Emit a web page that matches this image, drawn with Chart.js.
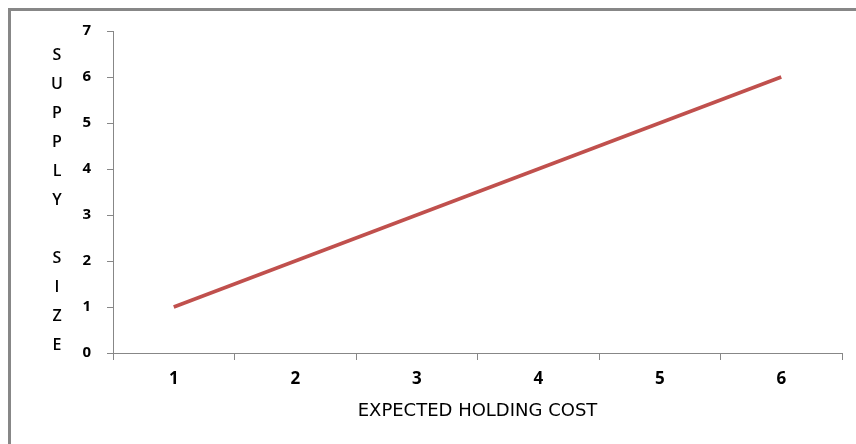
<!DOCTYPE html>
<html>
<head>
<meta charset="utf-8">
<script src="https://cdn.jsdelivr.net/npm/chart.js@4"></script>
<style>
  html, body { margin: 0; padding: 0; background: #fff; }
  #wrap { position: relative; width: 856px; height: 444px; overflow: hidden; }
  #frame { position: absolute; left: 8px; top: 8px; width: 900px; height: 500px;
           border-left: 3px solid #878787; border-top: 3px solid #878787; box-sizing: border-box; }
  canvas { position: absolute; left: 0; top: 0; }
</style>
</head>
<body>
<div id="wrap">
  <div id="frame"></div>
  <canvas id="c" width="856" height="444"></canvas>
</div>
<script>
const categories = ['1', '2', '3', '4', '5', '6'];
const supplySize = [1, 2, 3, 4, 5, 6];
const xTitle = 'EXPECTED HOLDING COST';
const yTitleLetters = ['S', 'U', 'P', 'P', 'L', 'Y', '', 'S', 'I', 'Z', 'E'];

const FONT = '"Open Sans", "DejaVu Sans", sans-serif';
const TITLE_FONT = '"DejaVu Sans", sans-serif';
const AXIS = '#878787';

const verticalTitle = {
  id: 'verticalTitle',
  afterDraw(chart) {
    const ctx = chart.ctx;
    ctx.save();
    ctx.fillStyle = '#000';
    ctx.font = '600 16px ' + FONT;
    ctx.textAlign = 'center';
    ctx.textBaseline = 'middle';
    yTitleLetters.forEach((ch, i) => {
      if (ch) ctx.fillText(ch, 57, 55 + i * 29);
    });
    ctx.restore();
  }
};

new Chart(document.getElementById('c'), {
  type: 'line',
  data: {
    labels: categories,
    datasets: [{
      data: supplySize,
      borderColor: '#C0504D',
      borderWidth: 3.5,
      pointRadius: 0,
      fill: false,
      tension: 0
    }]
  },
  options: {
    responsive: false,
    animation: false,
    devicePixelRatio: 1,
    layout: { padding: { left: 0, top: 31, right: 14, bottom: 0 } },
    plugins: { legend: { display: false }, tooltip: { enabled: false }, title: { display: false } },
    scales: {
      x: {
        type: 'category',
        offset: true,
        grid: { display: true, offset: true, drawOnChartArea: false, drawTicks: true, tickLength: 7, color: AXIS, lineWidth: 1 },
        border: { display: true, color: AXIS, width: 1 },
        ticks: { color: '#000', font: { family: FONT, size: 17, weight: 'bold' }, padding: 9, maxRotation: 0 },
        title: { display: true, text: xTitle, color: '#000', font: { family: TITLE_FONT, size: 18 }, padding: { top: 10, bottom: 22 } },
        afterFit(scale) { scale.height = 91; }
      },
      y: {
        min: 0,
        max: 7,
        ticks: { stepSize: 1, color: '#000', font: { family: FONT, size: 15, weight: 'bold' }, padding: 16 },
        grid: { display: true, drawOnChartArea: false, drawTicks: true, tickLength: 6, color: AXIS, lineWidth: 1 },
        border: { display: true, color: AXIS, width: 1 },
        afterFit(scale) { scale.width = 113; }
      }
    }
  },
  plugins: [verticalTitle]
});
</script>
</body>
</html>
